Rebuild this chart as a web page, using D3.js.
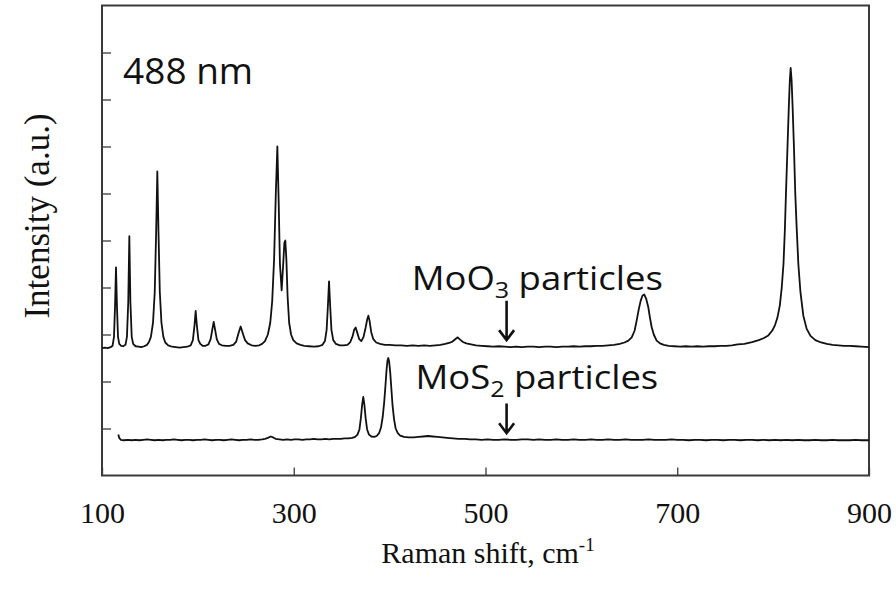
<!DOCTYPE html>
<html>
<head>
<meta charset="utf-8">
<script src="https://cdn.jsdelivr.net/npm/d3@7/dist/d3.min.js"></script>
<style>
  html, body { margin: 0; padding: 0; background: #fff; }
  svg { display: block; }
</style>
</head>
<body>
<svg id="chart" width="896" height="596"></svg>
<script>
// Raman spectra (488 nm excitation): [shift in cm^-1, intensity in a.u.]
const moo3Spectrum = [
  [100,2.71],[103,2.72],[106,2.71],[109,2.73],[111,2.76],[112.5,2.95],[113.6,3.6],[114.6,4.43],[115.6,3.6],[116.7,2.95],
  [118,2.8],[120,2.76],[122,2.75],[124.5,2.78],[126,2.95],[127.4,3.7],[128.5,5.09],[129.6,3.7],[131,2.95],[132.5,2.8],
  [135,2.75],[138,2.74],[141,2.73],[144,2.75],[147,2.78],[149,2.84],[151,2.95],[153.2,3.25],[155,3.9],[156.5,5.2],
  [157.7,6.47],[158.9,5.2],[160.3,3.9],[162,3.25],[164,2.95],[166,2.83],[169,2.77],[173,2.74],[177,2.73],[181,2.72],
  [185,2.73],[189,2.74],[192.5,2.77],[194.8,2.88],[196.5,3.2],[197.7,3.5],[198.9,3.2],[200.6,2.88],[202.5,2.8],[205,2.76],
  [208,2.76],[211,2.79],[213.3,2.9],[215,3.1],[216.5,3.27],[218,3.1],[219.7,2.9],[222,2.8],[225,2.77],[229,2.76],
  [233,2.76],[237,2.78],[240,2.85],[242.3,3.02],[244.6,3.17],[246.9,3.02],[249.2,2.88],[252,2.81],[256,2.77],[260,2.76],
  [264,2.77],[267,2.8],[270,2.86],[273,3.0],[275.5,3.25],[277.5,3.7],[279.5,4.6],[281.3,6.0],[282.9,7.0],[284.3,5.8],
  [285.6,4.5],[287.4,3.94],[289,4.5],[290.2,4.95],[291.2,5.0],[292.3,4.6],[293.6,3.8],[295.2,3.25],[297.2,3.0],[299.5,2.88],
  [303,2.81],[307,2.78],[311,2.76],[316,2.75],[321,2.74],[326,2.75],[330,2.78],[332.5,2.86],[334.3,3.1],[335.6,3.6],
  [336.8,4.13],[338,3.6],[339.3,3.1],[341.2,2.88],[344,2.8],[348,2.77],[352,2.77],[356,2.78],[359,2.84],[361.5,2.97],
  [363,3.1],[364.6,3.15],[366.2,3.04],[368.3,2.9],[370.5,2.86],[372.8,2.95],[375,3.15],[376.6,3.32],[377.8,3.4],[379,3.3],
  [380.8,3.05],[383,2.9],[386,2.83],[390,2.8],[395,2.78],[400,2.78],[406,2.77],[412,2.77],[418,2.76],[424,2.77],
  [430,2.76],[436,2.77],[442,2.76],[448,2.77],[453,2.78],[458,2.8],[462,2.82],[465.5,2.85],[468.5,2.9],[471,2.94],
  [473.5,2.89],[476.5,2.84],[480,2.81],[485,2.79],[490,2.77],[496,2.76],[502,2.75],[508,2.74],[514,2.75],[520,2.74],
  [526,2.73],[532,2.74],[538,2.73],[544,2.74],[550,2.74],[556,2.73],[562,2.74],[568,2.74],[574,2.73],[580,2.74],
  [586,2.74],[592,2.75],[598,2.74],[604,2.75],[610,2.75],[616,2.76],[622,2.76],[628,2.77],[634,2.78],[640,2.8],
  [645,2.83],[649,2.87],[652.5,2.94],[655.5,3.08],[657.7,3.3],[660,3.55],[661.9,3.72],[663.8,3.83],[665.6,3.85],[667.6,3.76],
  [669.8,3.58],[671.6,3.35],[673.3,3.16],[675.5,3.0],[678.5,2.87],[682,2.81],[686,2.78],[691,2.76],[697,2.75],[703,2.74],
  [709,2.75],[715,2.74],[721,2.75],[727,2.74],[733,2.75],[739,2.75],[745,2.76],[751,2.76],[757,2.77],[763,2.79],
  [770,2.8],[778,2.84],[785,2.88],[790,2.92],[795,2.98],[799,3.08],[802,3.2],[804.5,3.36],[807,3.62],[809,4.0],
  [810.8,4.5],[812.2,5.2],[813.4,6.0],[815,7.0],[816.3,7.8],[817.4,8.4],[818.3,8.67],[819.3,8.4],[820.4,7.8],[821.7,7.0],
  [823.1,6.0],[824.5,5.3],[826.3,4.5],[828.5,3.9],[831.5,3.4],[835,3.12],[839,2.97],[844,2.88],[850,2.83],[856,2.8],
  [862,2.78],[868,2.77],[874,2.76],[880,2.76],[886,2.75],[892,2.74],[900,2.73]
];

const mos2Spectrum = [
  [117,0.87],[118,0.8],[119.5,0.76],[123,0.75],[127,0.76],[131,0.75],[135,0.76],[139,0.75],[143,0.76],[147,0.77],
  [151,0.76],[155,0.75],[159,0.76],[163,0.75],[167,0.76],[171,0.76],[175,0.77],[179,0.76],[183,0.75],[187,0.76],
  [191,0.76],[195,0.75],[199,0.76],[203,0.76],[207,0.77],[211,0.76],[215,0.75],[219,0.76],[223,0.76],[227,0.75],
  [231,0.76],[235,0.77],[239,0.76],[243,0.75],[247,0.76],[251,0.76],[255,0.77],[259,0.76],[263,0.76],[267,0.77],
  [270,0.78],[273,0.8],[276,0.83],[278.5,0.81],[281,0.78],[285,0.77],[289,0.76],[293,0.77],[297,0.76],[301,0.77],
  [305,0.77],[309,0.76],[313,0.77],[317,0.77],[321,0.78],[325,0.77],[329,0.77],[333,0.78],[337,0.77],[341,0.78],
  [345,0.78],[349,0.78],[353,0.79],[357,0.79],[361,0.8],[364,0.82],[366.5,0.87],[368.5,0.98],[370,1.22],[371.4,1.52],
  [372.5,1.67],[373.6,1.52],[375,1.22],[376.5,0.98],[378.5,0.87],[381,0.83],[384,0.82],[386.5,0.84],[389,0.9],[391,1.02],
  [392.8,1.25],[394.3,1.55],[395.6,1.9],[396.8,2.25],[397.8,2.45],[398.6,2.5],[399.5,2.42],[400.6,2.2],[401.8,1.85],[403.1,1.48],
  [404.6,1.2],[406.3,1.0],[408.5,0.9],[411,0.85],[415,0.82],[420,0.81],[425,0.81],[430,0.82],[435,0.83],[440,0.84],
  [445,0.83],[450,0.82],[455,0.81],[460,0.8],[466,0.79],[472,0.78],[478,0.78],[484,0.77],[490,0.77],[496,0.76],
  [502,0.77],[508,0.76],[514,0.76],[520,0.77],[526,0.76],[532,0.76],[538,0.77],[544,0.77],[550,0.76],[556,0.77],
  [562,0.76],[568,0.76],[574,0.77],[580,0.76],[586,0.76],[592,0.77],[598,0.76],[604,0.76],[610,0.77],[616,0.76],
  [622,0.76],[628,0.77],[634,0.76],[640,0.76],[646,0.77],[652,0.76],[658,0.76],[664,0.76],[670,0.77],[676,0.76],
  [682,0.76],[688,0.76],[694,0.77],[700,0.76],[706,0.76],[712,0.75],[718,0.76],[724,0.76],[730,0.75],[736,0.76],
  [742,0.76],[748,0.75],[754,0.76],[760,0.76],[766,0.75],[772,0.76],[778,0.76],[784,0.75],[790,0.76],[796,0.75],
  [802,0.76],[808,0.75],[814,0.76],[820,0.75],[826,0.76],[832,0.75],[838,0.75],[844,0.76],[850,0.75],[856,0.75],
  [862,0.76],[868,0.75],[874,0.75],[880,0.75],[886,0.76],[892,0.75],[900,0.75]
];

const xTickValues = [100, 300, 500, 700, 900];
const yTickValues = [1, 2, 3, 4, 5, 6, 7, 8, 9];
const siLineShift = 522;   // marked position on both spectra

const svg = d3.select("#chart");
const W = 896, H = 596;
const plotLeft = 102, plotRight = 869, plotTop = 5.5, plotBottom = 475.5;

svg.append("rect").attr("width", W).attr("height", H).attr("fill", "#fff");

const x = d3.scaleLinear().domain([100, 900]).range([plotLeft, plotRight]);
const y = d3.scaleLinear().domain([0, 10]).range([plotBottom, plotTop]);

// frame
svg.append("rect")
  .attr("x", plotLeft).attr("y", plotTop)
  .attr("width", plotRight - plotLeft).attr("height", plotBottom - plotTop)
  .attr("fill", "none").attr("stroke", "#3a3a3a").attr("stroke-width", 2);

// bottom axis: inward ticks, serif labels
const serif = "'Liberation Serif', 'Times New Roman', serif";
const xAxis = svg.append("g")
  .attr("transform", `translate(0,${plotBottom})`)
  .call(d3.axisBottom(x).tickValues(xTickValues).tickSizeInner(-8).tickSizeOuter(0).tickFormat(d3.format("d")));
xAxis.select(".domain").remove();
xAxis.selectAll(".tick line").attr("stroke", "#3a3a3a").attr("stroke-width", 1.3);
xAxis.selectAll(".tick text")
  .attr("y", 47).attr("dy", 0)
  .attr("fill", "#111")
  .style("font-family", serif)
  .style("font-size", "30px");

// left axis: inward ticks only
const yAxis = svg.append("g")
  .attr("transform", `translate(${plotLeft},0)`)
  .call(d3.axisLeft(y).tickValues(yTickValues).tickSizeInner(-9).tickSizeOuter(0).tickFormat(""));
yAxis.select(".domain").remove();
yAxis.selectAll(".tick line").attr("stroke", "#3a3a3a").attr("stroke-width", 1.3);

// axis titles
const xTitle = svg.append("text")
  .attr("x", 488).attr("y", 563)
  .attr("text-anchor", "middle")
  .attr("fill", "#111")
  .style("font-family", serif)
  .style("font-size", "30px");
xTitle.append("tspan").text("Raman shift, cm");
xTitle.append("tspan").text("-1").attr("dy", -12).style("font-size", "19px");

svg.append("text")
  .attr("transform", `translate(49,216) rotate(-90)`)
  .attr("text-anchor", "middle")
  .attr("fill", "#111")
  .style("font-family", serif)
  .style("font-size", "35px")
  .text("Intensity (a.u.)");

// spectra
const line = d3.line().x(d => x(d[0])).y(d => y(d[1]));
[moo3Spectrum, mos2Spectrum].forEach(s => {
  svg.append("path")
    .datum(s)
    .attr("d", line)
    .attr("fill", "none")
    .attr("stroke", "#111")
    .attr("stroke-width", 1.8)
    .attr("stroke-linejoin", "round");
});

// annotations
const sans = "'Open Sans', 'Noto Sans', sans-serif";
svg.append("text")
  .attr("x", x(122)).attr("y", y(8.33))
  .attr("fill", "#111")
  .style("font-family", sans).style("font-size", "37px")
  .text("488 nm");

function formulaLabel(shift, level, base, sub) {
  const g = svg.append("g")
    .attr("transform", `translate(${x(shift)},${y(level)}) scale(1.14,1)`);
  const t = g.append("text")
    .attr("fill", "#111")
    .style("font-family", sans).style("font-size", "32px");
  t.append("tspan").text(base);
  t.append("tspan").text(sub).attr("dy", 8).style("font-size", "22px");
  t.append("tspan").text(" particles").attr("dy", -8);
}
formulaLabel(423, 3.95, "MoO", "3");
formulaLabel(427, 1.845, "MoS", "2");

function arrow(shift, from, to) {
  const ax = x(shift), y0 = y(from), y1 = y(to);
  svg.append("path")
    .attr("d", `M${ax},${y0}L${ax},${y1}M${ax - 7.5},${y1 - 10}L${ax},${y1}L${ax + 7.5},${y1 - 10}`)
    .attr("fill", "none").attr("stroke", "#111").attr("stroke-width", 2.6)
    .attr("stroke-linejoin", "miter");
}
arrow(siLineShift, 3.72, 2.88);
arrow(siLineShift, 1.53, 0.9);
</script>
</body>
</html>
